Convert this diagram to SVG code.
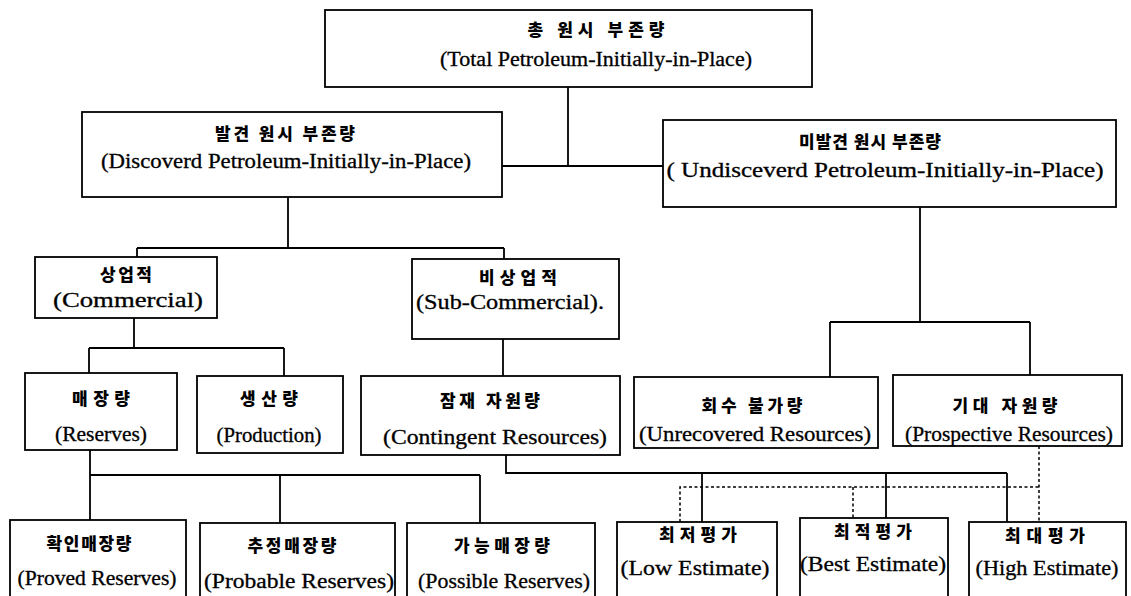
<svg xmlns="http://www.w3.org/2000/svg" width="1131" height="596" viewBox="0 0 1131 596">
<style>
.box{fill:#fff;stroke:#000;stroke-width:1.8}
.ln{fill:none;stroke:#000;stroke-width:1.8}
.dot{fill:none;stroke:#000;stroke-width:1.5;stroke-dasharray:3 2.5}
.ko{font-family:"Noto Sans CJK KR","Noto Sans",sans-serif;font-weight:900;font-size:17px;text-anchor:middle;fill:#000}
.en{font-family:"Liberation Serif","Times New Roman",serif;font-size:20px;text-anchor:middle;fill:#000;stroke:#000;stroke-width:0.3}
</style>
<rect width="1131" height="596" fill="#fff"/>
<g id="connectors">
<path class="ln" d="M568 87V166M502 166H663"/>
<path class="ln" d="M288 197V248M137 248H504M137 248V257M504 248V259"/>
<path class="ln" d="M920 207V322M830 322H1030M830 322V377M1030 322V375"/>
<path class="ln" d="M134 318V348M89 348H284M89 348V373M284 348V376"/>
<path class="ln" d="M503 339V376"/>
<path class="ln" d="M90 450V475M90 475H480M90 475V520M280 475V523M480 475V523"/>
<path class="ln" d="M506 455V473H1007M702 473V522M886 473V518M1007 473V522"/>
<path class="dot" d="M1039 446V522M680 522V487H1039M853 487V518"/>
</g>
<g id="n-total"><rect class="box" x="325" y="10" width="487" height="77"/>
<text class="ko" x="596" y="36" textLength="137" lengthAdjust="spacing">총 원시 부존량</text>
<text class="en" x="596" y="66" textLength="312" lengthAdjust="spacingAndGlyphs">(Total Petroleum-Initially-in-Place)</text></g>
<g id="n-discovered"><rect class="box" x="82" y="112" width="420" height="85"/>
<text class="ko" x="285" y="140" textLength="140" lengthAdjust="spacing">발견 원시 부존량</text>
<text class="en" x="286" y="168" textLength="370" lengthAdjust="spacingAndGlyphs">(Discoverd Petroleum-Initially-in-Place)</text></g>
<g id="n-undiscovered"><rect class="box" x="663" y="120" width="453" height="87"/>
<text class="ko" x="870" y="148" textLength="142" lengthAdjust="spacing">미발견 원시 부존량</text>
<text class="en" x="885" y="177" textLength="437" lengthAdjust="spacingAndGlyphs">( Undisceverd Petroleum-Initially-in-Place)</text></g>
<g id="n-commercial"><rect class="box" x="35" y="257" width="182" height="61"/>
<text class="ko" x="126" y="281" textLength="52" lengthAdjust="spacing">상업적</text>
<text class="en" x="128" y="307" textLength="150" lengthAdjust="spacingAndGlyphs">(Commercial)</text></g>
<g id="n-subcommercial"><rect class="box" x="412" y="259" width="207" height="80"/>
<text class="ko" x="518" y="284" textLength="78" lengthAdjust="spacing">비상업적</text>
<text class="en" x="510" y="309" textLength="188" lengthAdjust="spacingAndGlyphs">(Sub-Commercial).</text></g>
<g id="n-reserves"><rect class="box" x="25" y="373" width="152" height="77"/>
<text class="ko" x="101" y="405" textLength="58" lengthAdjust="spacing">매장량</text>
<text class="en" x="101" y="441" textLength="92" lengthAdjust="spacingAndGlyphs">(Reserves)</text></g>
<g id="n-production"><rect class="box" x="197" y="376" width="146" height="77"/>
<text class="ko" x="269" y="405" textLength="58" lengthAdjust="spacing">생산량</text>
<text class="en" x="269" y="442" textLength="105" lengthAdjust="spacingAndGlyphs">(Production)</text></g>
<g id="n-contingent"><rect class="box" x="361" y="376" width="259" height="79"/>
<text class="ko" x="490" y="407" textLength="100" lengthAdjust="spacing">잠재 자원량</text>
<text class="en" x="495" y="444" textLength="224" lengthAdjust="spacingAndGlyphs">(Contingent Resources)</text></g>
<g id="n-unrecovered"><rect class="box" x="634" y="377" width="244" height="71"/>
<text class="ko" x="752" y="412" textLength="101" lengthAdjust="spacing">회수 불가량</text>
<text class="en" x="755" y="441" textLength="232" lengthAdjust="spacingAndGlyphs">(Unrecovered Resources)</text></g>
<g id="n-prospective"><rect class="box" x="893" y="375" width="229" height="71"/>
<text class="ko" x="1005" y="412" textLength="105" lengthAdjust="spacing">기대 자원량</text>
<text class="en" x="1009" y="441" textLength="208" lengthAdjust="spacingAndGlyphs">(Prospective Resources)</text></g>
<g id="n-proved"><rect class="box" x="10" y="520" width="176" height="90"/>
<text class="ko" x="89" y="550" textLength="85" lengthAdjust="spacing">확인매장량</text>
<text class="en" x="97" y="585" textLength="159" lengthAdjust="spacingAndGlyphs">(Proved Reserves)</text></g>
<g id="n-probable"><rect class="box" x="200" y="523" width="195" height="90"/>
<text class="ko" x="292" y="552" textLength="89" lengthAdjust="spacing">추정매장량</text>
<text class="en" x="299" y="588" textLength="190" lengthAdjust="spacingAndGlyphs">(Probable Reserves)</text></g>
<g id="n-possible"><rect class="box" x="407" y="523" width="188" height="90"/>
<text class="ko" x="502" y="552" textLength="96" lengthAdjust="spacing">가능매장량</text>
<text class="en" x="504" y="588" textLength="172" lengthAdjust="spacingAndGlyphs">(Possible Reserves)</text></g>
<g id="n-low"><rect class="box" x="617" y="522" width="160" height="90"/>
<text class="ko" x="698" y="541" textLength="78" lengthAdjust="spacing">최저평가</text>
<text class="en" x="695" y="575" textLength="149" lengthAdjust="spacingAndGlyphs">(Low Estimate)</text></g>
<g id="n-best"><rect class="box" x="800" y="518" width="148" height="90"/>
<text class="ko" x="873" y="538" textLength="78" lengthAdjust="spacing">최적평가</text>
<text class="en" x="873" y="571" textLength="146" lengthAdjust="spacingAndGlyphs">(Best Estimate)</text></g>
<g id="n-high"><rect class="box" x="969" y="522" width="157" height="90"/>
<text class="ko" x="1045" y="542" textLength="80" lengthAdjust="spacing">최대평가</text>
<text class="en" x="1047" y="575" textLength="143" lengthAdjust="spacingAndGlyphs">(High Estimate)</text></g>
</svg>
